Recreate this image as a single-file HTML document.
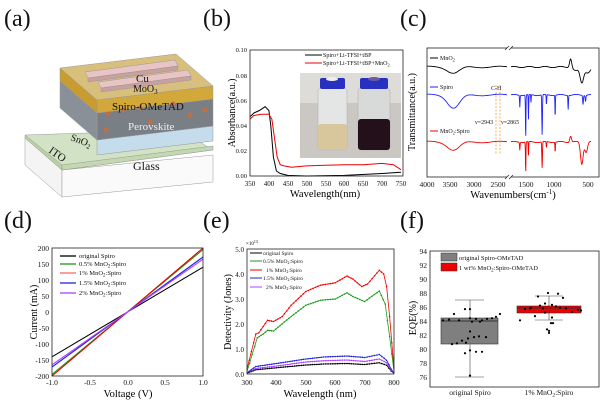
<!DOCTYPE html>
<html><head><meta charset="utf-8"><style>
html,body{margin:0;padding:0;background:#fff;}
svg{display:block;font-family:"Liberation Serif",serif;}
</style></head><body>
<svg id="s" width="604" height="402" viewBox="0 0 604 402" xmlns="http://www.w3.org/2000/svg">
<defs>
<marker id="dk" markerWidth="3" markerHeight="3" refX="1.5" refY="1.5"><circle cx="1.5" cy="1.5" r="1" fill="#000"/></marker>
<marker id="dg" markerWidth="3" markerHeight="3" refX="1.5" refY="1.5"><circle cx="1.5" cy="1.5" r="1" fill="#1a9a1a"/></marker>
<marker id="dr" markerWidth="3" markerHeight="3" refX="1.5" refY="1.5"><circle cx="1.5" cy="1.5" r="1" fill="#e00"/></marker>
<marker id="db" markerWidth="3" markerHeight="3" refX="1.5" refY="1.5"><circle cx="1.5" cy="1.5" r="1" fill="#22d"/></marker>
<marker id="dp" markerWidth="3" markerHeight="3" refX="1.5" refY="1.5"><circle cx="1.5" cy="1.5" r="1" fill="#b040ff"/></marker>
</defs>
<g font-size="24" fill="#111">
<text x="4" y="26">(a)</text><text x="203" y="26">(b)</text><text x="400" y="26">(c)</text>
<text x="4" y="228">(d)</text><text x="203" y="228">(e)</text><text x="400" y="228">(f)</text>
</g>

<!-- (a) -->
<g stroke="#999" stroke-width="0.5">
<polygon points="25,138 62,170 62,197 25,165" fill="#f4f4f4"/>
<polygon points="62,170 213,155 213,182 62,197" fill="#fafafa"/>
<polygon points="25,135 180,130 213,150 62,170" fill="#d2e2c4"/>
<polygon points="25,135 62,165 62,170 25,138" fill="#b8d0a4"/>
<polygon points="62,165 213,146 213,150 62,170" fill="#c2d8b0"/>
<polygon points="97,140 213,126 213,141 97,155" fill="#c4dcec"/>
<polygon points="97,113 213,99 213,126 97,140" fill="#7a7f86"/>
<polygon points="60,81 97,113 97,140 60,108" fill="#8a9098"/>
<polygon points="97,100 213,86 213,99 97,113" fill="#d2a83a"/>
<polygon points="60,68 97,100 97,113 60,81" fill="#c89c30"/>
<polygon points="60,68 176,54 213,86 97,100" fill="#d8c07c"/>
<polygon points="85,72 175,60 178,66 88,78" fill="#e9c4c4"/>
<polygon points="88,78 178,66 178,70 88,82" fill="#c9a0a0"/>
<polygon points="98,82 188,70 191,76 101,88" fill="#e9c4c4"/>
<polygon points="101,88 191,76 191,80 101,92" fill="#c9a0a0"/>
</g>
<g fill="#c07040"><circle cx="108" cy="114" r="2.5"/><circle cx="123" cy="110" r="2.5"/><circle cx="140" cy="108" r="2.5"/><circle cx="173" cy="104" r="2.5"/><circle cx="205" cy="110" r="2.5"/><circle cx="190" cy="115" r="2.5"/><circle cx="106" cy="130" r="2.5"/><circle cx="150" cy="122" r="2.5"/></g>
<g font-size="11" fill="#111">
<text x="136" y="82">Cu</text>
<text x="133" y="92" font-size="10">MoO<tspan font-size="7" dy="2">3</tspan></text>
<text x="112" y="110">Spiro-OMeTAD</text>
<text x="128" y="130" fill="#eee">Perovskite</text>
<text x="70" y="140" transform="rotate(20 70 140)" font-size="10">SnO<tspan font-size="7" dy="2">2</tspan></text>
<text x="48" y="152" transform="rotate(35 48 152)">ITO</text>
<text x="133" y="170" font-size="12">Glass</text>
</g>

<!-- (b) -->
<g font-size="6.5" fill="#111" text-anchor="end">
<text x="247" y="178">0.00</text><text x="247" y="153">0.02</text><text x="247" y="128">0.04</text><text x="247" y="103">0.06</text><text x="247" y="78">0.08</text><text x="247" y="52">0.10</text>
</g>
<g font-size="7" fill="#111" text-anchor="middle">
<text x="250" y="186">350</text><text x="269" y="186">400</text><text x="288" y="186">450</text><text x="307" y="186">500</text><text x="326" y="186">550</text><text x="344" y="186">600</text><text x="363" y="186">650</text><text x="382" y="186">700</text><text x="401" y="186">750</text>
</g>
<text x="325" y="197" font-size="10.5" text-anchor="middle">Wavelength(nm)</text>
<text transform="translate(235,113) rotate(-90)" font-size="10" text-anchor="middle">Absorbance(a.u.)</text>
<rect x="300" y="73" width="101" height="85" fill="#cbc8c4"/>
<rect x="300" y="73" width="101" height="30" fill="#dedcd8"/>
<rect x="318" y="88" width="29" height="62" rx="3" fill="#e4e6e6" stroke="#aaa" stroke-width="0.5"/>
<rect x="318" y="124" width="29" height="26" rx="3" fill="#d8c69c"/>
<rect x="320" y="78" width="25" height="11" rx="2" fill="#2830c0"/>
<ellipse cx="332" cy="79" rx="6" ry="2" fill="#eee"/>
<rect x="358" y="88" width="32" height="62" rx="3" fill="#d8dada" stroke="#aaa" stroke-width="0.5"/>
<rect x="358" y="119" width="32" height="31" rx="3" fill="#24101a"/>
<rect x="360" y="78" width="28" height="11" rx="2" fill="#2830c0"/>
<ellipse cx="374" cy="79" rx="6" ry="2" fill="#6a5aa0"/>
<line x1="305" y1="55" x2="322" y2="55" stroke="#000"/>
<line x1="305" y1="63" x2="322" y2="63" stroke="#e00"/>
<g font-size="6" fill="#111"><text x="323" y="57">Spiro+Li-TFSI+tBP</text><text x="323" y="65">Spiro+Li-TFSI+tBP+MnO<tspan font-size="4.5" dy="1.5">2</tspan></text></g>
<path id="bk" fill="none" stroke="#000" stroke-width="1"/>
<path id="br" fill="none" stroke="#e00" stroke-width="1"/>
<rect x="250" y="50" width="153" height="126" fill="none" stroke="#222" stroke-width="0.8"/>

<!-- (c) -->
<g font-size="7.5" fill="#111" text-anchor="middle">
<text x="427" y="187">4000</text><text x="450" y="187">3500</text><text x="474" y="187">3000</text><text x="498" y="187">2500</text><text x="526" y="187">1500</text><text x="554" y="187">1000</text><text x="588" y="187">500</text>
</g>
<text x="513" y="198" font-size="10.5" text-anchor="middle">Wavenumbers(cm<tspan font-size="7" dy="-4">-1</tspan><tspan dy="4">)</tspan></text>
<text transform="translate(415,112) rotate(-90)" font-size="10" text-anchor="middle">Transmittance(a.u.)</text>
<line x1="496" y1="85" x2="496" y2="155" stroke="#f0a040" stroke-dasharray="2,1.5" stroke-width="0.8"/>
<line x1="500" y1="85" x2="500" y2="155" stroke="#f0a040" stroke-dasharray="2,1.5" stroke-width="0.8"/>
<path id="ck" fill="none" stroke="#000" stroke-width="0.9"/>
<path id="cb" fill="none" stroke="#22f" stroke-width="0.9"/>
<path id="cr" fill="none" stroke="#e00" stroke-width="0.9"/>
<rect x="427" y="48" width="172" height="129" fill="none" stroke="#222" stroke-width="0.8"/>
<rect x="507" y="44" width="4" height="137" fill="#fff"/>
<g stroke="#222" stroke-width="0.7"><line x1="505" y1="50" x2="509" y2="46"/><line x1="509" y1="50" x2="513" y2="46"/><line x1="505" y1="179" x2="509" y2="175"/><line x1="509" y1="179" x2="513" y2="175"/></g>
<line x1="430" y1="58" x2="438" y2="58" stroke="#000"/>
<line x1="430" y1="87" x2="438" y2="87" stroke="#22f"/>
<line x1="430" y1="131" x2="438" y2="131" stroke="#e00"/>
<g font-size="6" fill="#111"><text x="440" y="60">MnO<tspan font-size="4.5" dy="1.5">2</tspan></text><text x="440" y="89">Spiro</text><text x="440" y="133">MnO<tspan font-size="4.5" dy="1.5">2</tspan><tspan dy="-1.5">:Spiro</tspan></text>
<text x="491" y="90">C-H</text><text x="475" y="124">ν=2943</text><text x="501" y="124">ν=2865</text></g>

<!-- (d) -->
<g font-size="7.5" fill="#111" text-anchor="end">
<text x="49" y="251">200</text><text x="49" y="267">150</text><text x="49" y="283">100</text><text x="49" y="299">50</text><text x="49" y="315">0</text>
<text x="49" y="331">-50</text><text x="49" y="347">-100</text><text x="49" y="363">-150</text><text x="49" y="379">-200</text>
</g>
<g font-size="7.5" fill="#111" text-anchor="middle">
<text x="52" y="385">-1.0</text><text x="90" y="385">-0.5</text><text x="128" y="385">0.0</text><text x="165" y="385">0.5</text><text x="203" y="385">1.0</text>
</g>
<text x="128" y="397" font-size="10.5" text-anchor="middle">Voltage (V)</text>
<text transform="translate(37,312) rotate(-90)" font-size="10" text-anchor="middle">Current (mA)</text>
<g stroke-width="1.1">
<line x1="52" y1="356.8" x2="203" y2="267.2" stroke="#000"/>
<line x1="52" y1="374.4" x2="203" y2="249.6" stroke="#1a9a1a"/>
<line x1="52" y1="376" x2="203" y2="248" stroke="#e00"/>
<line x1="52" y1="367" x2="203" y2="257" stroke="#22d"/>
<line x1="52" y1="364.8" x2="203" y2="259.2" stroke="#b040ff"/>
</g>
<g stroke-width="1.3"><line x1="60" y1="256" x2="76" y2="256" stroke="#000"/><line x1="60" y1="264" x2="76" y2="264" stroke="#1a9a1a"/><line x1="60" y1="273" x2="76" y2="273" stroke="#f66"/><line x1="60" y1="283" x2="76" y2="283" stroke="#22d"/><line x1="60" y1="293" x2="76" y2="293" stroke="#b040ff"/></g>
<g font-size="6.5" fill="#111"><text x="79" y="258">original Spiro</text><text x="79" y="266">0.5% MnO<tspan font-size="5" dy="1.5">2</tspan><tspan dy="-1.5">:Spiro</tspan></text><text x="79" y="275">1%  MnO<tspan font-size="5" dy="1.5">2</tspan><tspan dy="-1.5">:Spiro</tspan></text><text x="79" y="285">1.5% MnO<tspan font-size="5" dy="1.5">2</tspan><tspan dy="-1.5">:Spiro</tspan></text><text x="79" y="295">2%  MnO<tspan font-size="5" dy="1.5">2</tspan><tspan dy="-1.5">:Spiro</tspan></text></g>
<rect x="52" y="248" width="151" height="128" fill="none" stroke="#222" stroke-width="0.8"/>

<!-- (e) -->
<g font-size="7" fill="#111" text-anchor="end">
<text x="244" y="377">0.0</text><text x="244" y="352">1.0</text><text x="244" y="327">2.0</text><text x="244" y="302">3.0</text><text x="244" y="277">4.0</text><text x="244" y="252">5.0</text>
</g>
<text x="246" y="245" font-size="5">×10<tspan font-size="4" dy="-2">13</tspan></text>
<g font-size="7.5" fill="#111" text-anchor="middle">
<text x="247" y="385">300</text><text x="276" y="385">400</text><text x="306" y="385">500</text><text x="335" y="385">600</text><text x="365" y="385">700</text><text x="394" y="385">800</text>
</g>
<text x="320" y="397" font-size="10.5" text-anchor="middle">Wavelength (nm)</text>
<text transform="translate(231,312) rotate(-90)" font-size="10" text-anchor="middle">Detectivity (Jones)</text>
<path id="ek" fill="none" stroke="#000" stroke-width="0.8" marker-mid="url(#dk)"/>
<path id="ep" fill="none" stroke="#b040ff" stroke-width="0.8" marker-mid="url(#dp)"/>
<path id="eb" fill="none" stroke="#22d" stroke-width="0.8" marker-mid="url(#db)"/>
<path id="eg" fill="none" stroke="#1a9a1a" stroke-width="0.8" marker-mid="url(#dg)"/>
<path id="er" fill="none" stroke="#e00" stroke-width="0.8" marker-mid="url(#dr)"/>
<g stroke-width="1"><line x1="250" y1="253" x2="262" y2="253" stroke="#000"/><line x1="250" y1="261" x2="262" y2="261" stroke="#1a9a1a"/><line x1="250" y1="270" x2="262" y2="270" stroke="#e00"/><line x1="250" y1="278" x2="262" y2="278" stroke="#22d"/><line x1="250" y1="287" x2="262" y2="287" stroke="#b040ff"/></g>
<g font-size="5.5" fill="#111"><text x="263" y="255">original Spiro</text><text x="263" y="263">0.5% MnO<tspan font-size="4" dy="1">2</tspan><tspan dy="-1">:Spiro</tspan></text><text x="266" y="272">1%  MnO<tspan font-size="4" dy="1">2</tspan><tspan dy="-1">:Spiro</tspan></text><text x="263" y="280">1.5% MnO<tspan font-size="4" dy="1">2</tspan><tspan dy="-1">:Spiro</tspan></text><text x="266" y="289">2%  MnO<tspan font-size="4" dy="1">2</tspan><tspan dy="-1">:Spiro</tspan></text></g>
<rect x="247" y="249" width="147" height="125" fill="none" stroke="#222" stroke-width="0.8"/>

<!-- (f) -->
<g font-size="7.5" fill="#111" text-anchor="end">
<text x="427" y="380">76</text><text x="427" y="366">78</text><text x="427" y="352">80</text><text x="427" y="338">82</text><text x="427" y="324">84</text><text x="427" y="310">86</text><text x="427" y="296">88</text><text x="427" y="282">90</text><text x="427" y="268">92</text><text x="427" y="254">94</text>
</g>
<text transform="translate(416,318) rotate(-90)" font-size="10" text-anchor="middle">EQE(%)</text>
<g font-size="7.5" fill="#111" text-anchor="middle"><text x="470" y="395">original Spiro</text><text x="549" y="395">1% MnO<tspan font-size="5.5" dy="1.5">2</tspan><tspan dy="-1.5">:Spiro</tspan></text></g>
<rect x="441" y="318" width="57" height="26" fill="#7f7f7f" stroke="#333" stroke-width="0.6"/>
<line x1="441" y1="321" x2="498" y2="321" stroke="#333"/>
<g stroke="#444" stroke-width="0.6"><line x1="470" y1="300" x2="470" y2="318"/><line x1="470" y1="344" x2="470" y2="377"/><line x1="455" y1="300" x2="484" y2="300"/><line x1="455" y1="377" x2="484" y2="377"/>
<line x1="549" y1="296" x2="549" y2="306"/><line x1="549" y1="313" x2="549" y2="320"/><line x1="535" y1="296" x2="563" y2="296"/><line x1="535" y1="320" x2="563" y2="320"/></g>
<rect x="517" y="306" width="64" height="7" fill="#e00" stroke="#333" stroke-width="0.6"/>
<line x1="517" y1="308" x2="581" y2="308" stroke="#333"/>
<g id="fd" fill="#000"></g>
<rect x="441" y="253" width="16" height="8" fill="#7f7f7f" stroke="#333" stroke-width="0.5"/>
<rect x="441" y="263" width="16" height="8" fill="#e00" stroke="#333" stroke-width="0.5"/>
<g font-size="6.5" fill="#111"><text x="459" y="260">original Spiro-OMeTAD</text><text x="459" y="270">1 wt% MnO<tspan font-size="5" dy="1.5">2</tspan><tspan dy="-1.5">:Spiro-OMeTAD</tspan></text></g>
<rect x="430" y="251" width="169" height="136" fill="none" stroke="#222" stroke-width="0.8"/>
</svg>
<script>
function P(id,pts,fx,fy){var d=pts.map(function(p,i){return (i?'L':'M')+fx(p[0]).toFixed(1)+','+fy(p[1]).toFixed(1)}).join('');document.getElementById(id).setAttribute('d',d);}
var bx=function(w){return 250+(w-350)*151/400},by=function(a){return 176-a*1260};
P('bk',[[350,.047],[360,.05],[375,.052],[390,.055],[400,.052],[405,.04],[412,.015],[420,.004],[430,.002],[450,.0005],[500,0],[600,.0005],[700,.002],[750,.003]],bx,by);
P('br',[[350,.045],[360,.048],[380,.049],[400,.049],[408,.045],[415,.03],[422,.015],[430,.009],[440,.008],[460,.007],[500,.008],[550,.0085],[600,.009],[650,.009],[700,.01],[730,.009],[750,.005]],bx,by);
function cx(w){return w>2000?427+(4000-w)*0.047:526+(1500-w)*0.062}
function seg(id,base,amp,peaks){var L=[];for(var w=4000;w>=2250;w-=25){var y=base+amp*Math.exp(-Math.pow((w-3430)/180,2))-Math.sin(w/120)*0.8;L.push(cx(w).toFixed(1)+','+y.toFixed(1));}
var d='M'+L.join('L');
var r=[];for(var w=1800;w>=450;w-=4){var y=base;peaks.forEach(function(k){y+=k[1]*Math.exp(-Math.pow((w-k[0])/k[2],2))});y+=Math.sin(w/40)*0.6;r.push(cx(w).toFixed(1)+','+y.toFixed(1));}
d+='M'+r.join('L');document.getElementById(id).setAttribute('d',d);}
seg('ck',67,6,[[780,-9,25],[600,15,40],[500,6,60],[700,4,60]]);
seg('cb',95,13,[[1600,12,6],[1505,42,6],[1460,25,5],[1420,8,5],[1240,40,7],[1170,10,6],[1030,22,5],[820,14,6],[580,9,8],[540,6,8]]);
seg('cr',142,8,[[1600,8,6],[1505,30,6],[1460,14,5],[1240,26,7],[1170,6,6],[1030,10,5],[780,-6,20],[600,22,30],[530,10,30]]);
var ex=function(w){return 247+(w-300)*0.294},ey=function(d){return 374-d*25};
function dense(a){var o=[];for(var i=0;i<a.length-1;i++){var n=Math.max(1,Math.round((a[i+1][0]-a[i][0])/8));for(var j=0;j<n;j++){var t=j/n;o.push([a[i][0]+t*(a[i+1][0]-a[i][0]),a[i][1]+t*(a[i+1][1]-a[i][1])]);}}o.push(a[a.length-1]);return o;}
P('er',dense([[300,.2],[330,1.6],[340,1.65],[355,1.9],[370,2.15],[390,2.1],[420,2.3],[450,2.75],[500,3.3],[550,3.55],[600,3.65],[640,3.92],[660,3.8],[690,3.5],[710,3.6],[750,4.15],[765,4.0],[775,3.5],[785,2.3],[800,.2]]),ex,ey);
P('eg',dense([[300,.1],[335,1.45],[355,1.6],[370,1.75],[390,1.72],[450,2.3],[500,2.75],[550,2.95],[600,3.0],[640,3.25],[660,3.1],[700,2.9],[750,3.32],[770,2.8],[785,1.5],[800,.1]]),ex,ey);
P('eb',dense([[300,.05],[330,.3],[400,.42],[500,.6],[560,.68],[640,.72],[700,.66],[750,.78],[775,.55],[790,.2],[800,.05]]),ex,ey);
P('ep',dense([[300,.05],[330,.22],[400,.32],[500,.48],[560,.53],[640,.56],[700,.5],[750,.6],[775,.45],[790,.15],[800,.05]]),ex,ey);
P('ek',dense([[300,.03],[330,.17],[400,.25],[500,.36],[560,.4],[640,.42],[700,.38],[750,.45],[775,.35],[790,.12],[800,.03]]),ex,ey);
var fy=function(v){return 377-(v-76)*7};
var d1=[[443,84.1],[449,84.2],[454,85],[459,84.1],[465,85.7],[470,85.7],[470,84.4],[476,84.3],[482,84.1],[487,84.3],[492,84.4],[496,84.6],[500,85],[470,82.5],[474,81.7],[479,81.8],[486,81.7],[468,81.5],[462,81.2],[457,80.8],[452,80.7],[466,80.9],[470,79.8],[476,79.6],[482,79.6],[465,79.4],[470,76.2],[472,83.9],[480,83.9]];
var d2=[[520,84.1],[525,85.7],[530,85.8],[535,84.7],[540,86.2],[545,86.5],[552,86.3],[556,86.1],[560,85.9],[566,85.8],[572,85.3],[578,85.6],[581,85.5],[538,87.5],[548,88],[558,87.9],[563,87.3],[545,85.2],[551,83.7],[553,83.7],[547,82.8],[549,82.6],[549,82.3],[552,84.5],[531,85.9],[543,85.8]];
var g=document.getElementById('fd'),h='';d1.concat(d2).forEach(function(p){h+='<circle cx="'+p[0]+'" cy="'+fy(p[1]).toFixed(1)+'" r="1.1"/>'});g.innerHTML=h;
</script>
</body></html>
